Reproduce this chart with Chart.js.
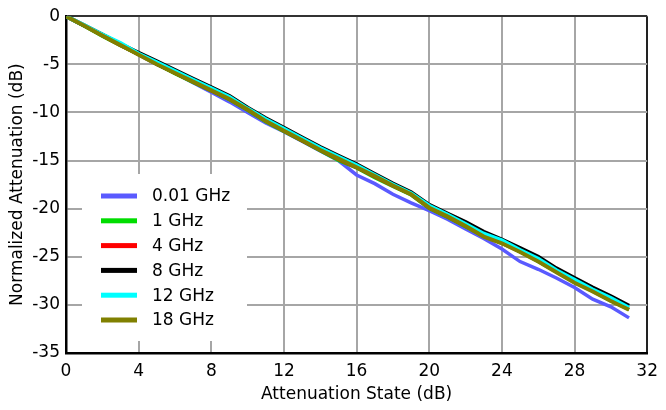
<!DOCTYPE html>
<html>
<head>
<meta charset="utf-8">
<script src="https://cdn.jsdelivr.net/npm/chart.js@4.4.1/dist/chart.umd.min.js"></script>
<style>
  html, body { margin: 0; padding: 0; background: #fff; }
  #wrap { width: 666px; height: 410px; }
</style>
</head>
<body>
<div id="wrap"><canvas id="attnChart" width="666" height="410"></canvas></div>
<script>
// Attenuation state (dB), x values
const attenState = [0, 1, 2, 3, 4, 5, 6, 7, 8, 9, 10, 11, 12, 13, 14, 15,
  16, 17, 18, 19, 20, 21, 22, 23, 24, 25, 26, 27, 28, 29, 30, 31];

// Normalized attenuation (dB) per frequency
const ghz001 = [0, -1.0, -2.0, -3.0, -4.0, -5.0, -5.9, -6.9, -7.9, -8.9, -10.0, -11.1, -12.0, -13.0, -14.0, -15.0,
  -16.5, -17.4, -18.5, -19.4, -20.2, -21.1, -22.1, -23.1, -24.2, -25.5, -26.3, -27.2, -28.2, -29.4, -30.2, -31.35];
const ghz1 = [0, -1.05, -2.1, -3.1, -4.0, -5.0, -6.0, -6.9, -7.8, -8.7, -9.8, -11.0, -12.0, -13.0, -14.0, -15.0,
  -15.8, -16.8, -17.7, -18.6, -20.0, -20.9, -21.9, -22.9, -23.6, -24.5, -25.5, -26.6, -27.7, -28.6, -29.6, -30.5];
const ghz4 = [0, -1.0, -2.05, -3.05, -4.0, -5.0, -5.95, -6.85, -7.75, -8.65, -9.75, -10.9, -11.95, -12.95, -13.95, -14.9,
  -15.75, -16.7, -17.65, -18.55, -19.95, -20.85, -21.85, -22.85, -23.6, -24.5, -25.45, -26.55, -27.65, -28.55, -29.55, -30.45];
const ghz8 = [0, -0.95, -1.9, -2.9, -3.8, -4.7, -5.6, -6.5, -7.4, -8.3, -9.5, -10.6, -11.6, -12.6, -13.6, -14.5,
  -15.4, -16.4, -17.4, -18.3, -19.6, -20.5, -21.4, -22.4, -23.2, -24.1, -25.0, -26.2, -27.2, -28.2, -29.1, -30.1];
const ghz12 = [0, -0.95, -1.9, -2.8, -3.9, -4.8, -5.7, -6.6, -7.5, -8.4, -9.6, -10.7, -11.7, -12.7, -13.7, -14.6,
  -15.5, -16.5, -17.5, -18.4, -19.7, -20.6, -21.6, -22.6, -23.3, -24.3, -25.2, -26.4, -27.4, -28.4, -29.3, -30.3];
const ghz18 = [0, -1.0, -2.0, -3.0, -4.0, -5.0, -5.9, -6.8, -7.7, -8.6, -9.7, -10.9, -11.9, -12.9, -13.9, -14.8,
  -15.7, -16.6, -17.6, -18.5, -19.9, -20.8, -21.8, -22.9, -23.6, -24.5, -25.5, -26.6, -27.7, -28.6, -29.6, -30.5];

const seriesLabels = ["0.01 GHz", "1 GHz", "4 GHz", "8 GHz", "12 GHz", "18 GHz"];
const seriesValues = [ghz001, ghz1, ghz4, ghz8, ghz12, ghz18];
const seriesColors = ["#5a5aff", "#00dd00", "#ff0000", "#000000", "#00ffff", "#808000"];
const seriesWidths = [3.5, 3, 3, 4, 4, 4];

const FONT = "'DejaVu Sans', Verdana, sans-serif";

// Legend drawn inside the plot, on a white box
const boxLegend = {
  id: "boxLegend",
  afterDatasetsDraw(chart) {
    const ctx = chart.ctx;
    ctx.save();
    ctx.fillStyle = "#ffffff";
    ctx.fillRect(82, 174, 165, 167);
    ctx.font = "17px " + FONT;
    ctx.textBaseline = "middle";
    ctx.textAlign = "left";
    seriesLabels.forEach((lab, i) => {
      const y = 196 + i * 24.8;
      ctx.fillStyle = seriesColors[i];
      ctx.fillRect(101, y - 2.5, 36, 5);
      ctx.fillStyle = "#000";
      ctx.fillText(lab, 152, y + 1);
    });
    ctx.restore();
  },
};

const ctx = document.getElementById("attnChart").getContext("2d");
const chart = new Chart(ctx, {
  type: "line",
  data: {
    datasets: seriesValues.map((vals, i) => ({
      label: seriesLabels[i],
      data: attenState.map((x, j) => ({ x: x, y: vals[j] })),
      borderColor: seriesColors[i],
      backgroundColor: seriesColors[i],
      borderWidth: seriesWidths[i],
      pointRadius: 0,
      tension: 0,
      order: seriesLabels.length - i,
    })),
  },
  options: {
    responsive: false,
    animation: false,
    layout: { padding: { top: 15, right: 13, left: 0, bottom: 0 } },
    plugins: {
      legend: { display: false },
      tooltip: { enabled: false },
    },
    scales: {
      x: {
        type: "linear",
        min: 0,
        max: 32,
        afterFit: (s) => { s.height = 57; },
        ticks: { stepSize: 4, color: "#000", padding: 8, font: { family: FONT, size: 17 } },
        grid: {
          drawTicks: false,
          lineWidth: 2,
          color: (c) => (c.tick && c.tick.value === 32 ? "#222" : "#a6a6a6"),
        },
        border: { color: "#000", width: 2.5 },
        title: {
          display: true,
          text: "Attenuation State (dB)",
          color: "#000",
          font: { family: FONT, size: 17 },
          padding: { top: 0, bottom: 5 },
        },
      },
      y: {
        min: -35,
        max: 0,
        afterFit: (s) => { s.width = 66; },
        ticks: { stepSize: 5, color: "#000", padding: 6, font: { family: FONT, size: 17 } },
        grid: {
          drawTicks: false,
          lineWidth: 2,
          color: (c) => (c.tick && c.tick.value === 0 ? "#333" : "#a6a6a6"),
        },
        border: { color: "#000", width: 2.5 },
        title: {
          display: true,
          text: "Normalized Attenuation (dB)",
          color: "#000",
          font: { family: FONT, size: 17 },
          padding: { top: 7, bottom: 0 },
        },
      },
    },
  },
  plugins: [boxLegend],
});
</script>
</body>
</html>
